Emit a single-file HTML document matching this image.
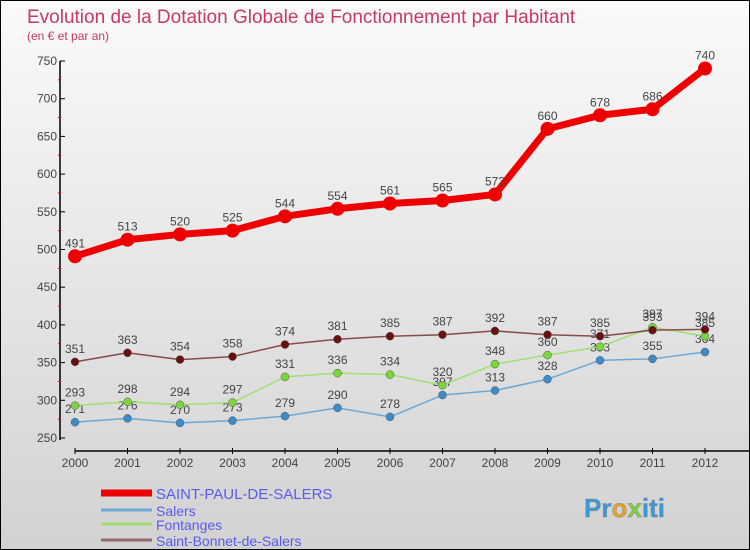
<!DOCTYPE html>
<html><head><meta charset="utf-8"><style>
html,body{margin:0;padding:0}
body{width:750px;height:550px;overflow:hidden;font-family:"Liberation Sans",sans-serif}
#wrap{position:relative;width:748px;height:548px;border:1px solid #000;background:linear-gradient(#fafafa,#d2d2d2)}
</style></head><body>
<div id="wrap">
<svg id="chart" width="748" height="548" style="position:absolute;left:0;top:0"></svg>
</div>
<script>
const years=['2000','2001','2002','2003','2004','2005','2006','2007','2008','2009','2010','2011','2012'];
const spsValues=[491,513,520,525,544,554,561,565,573,660,678,686,740];
const salersValues=[271,276,270,273,279,290,278,307,313,328,353,355,364];
const fontangesValues=[293,298,294,297,331,336,334,320,348,360,371,397,385];
const sbsValues=[351,363,354,358,374,381,385,387,392,387,385,393,394];
const yTicks=[250,300,350,400,450,500,550,600,650,700,750];
const seriesNames=['SAINT-PAUL-DE-SALERS','Salers','Fontanges','Saint-Bonnet-de-Salers'];

const NS='http://www.w3.org/2000/svg';
const svg=document.getElementById('chart');
function X(i){return 74+i*52.5;}
function Y(v){return 437-(v-250)*0.754;}
function el(t,a,p){const e=document.createElementNS(NS,t);for(const k in a)e.setAttribute(k,a[k]);(p||svg).appendChild(e);return e;}

let t=el('text',{x:26,y:22,'font-size':19,fill:'#c8386a'});t.textContent='Evolution de la Dotation Globale de Fonctionnement par Habitant';

t=el('text',{x:26,y:39,'font-size':12,fill:'#c8386a'});t.textContent='(en € et par an)';


// y axis
let ya=el('line',{x1:59,y1:60,x2:59,y2:439,stroke:'#000','stroke-width':1.5});

yTicks.forEach((v,i)=>{
 el('line',{x1:59,y1:Y(v),x2:64,y2:Y(v),stroke:'#000'});
 if(i<yTicks.length-1) el('line',{x1:57,y1:Y(v+25),x2:60,y2:Y(v+25),stroke:'#d00'});
 const l=el('text',{x:56,y:Y(v)+4,'font-size':12,fill:'#444','text-anchor':'end'});l.textContent=v;
 
});
// x axis
let xa=el('line',{x1:74,y1:450,x2:748,y2:450,stroke:'#000','stroke-width':1.5});

years.forEach((y,i)=>{
 el('line',{x1:X(i),y1:447,x2:X(i),y2:453,stroke:'#000'});
 const l=el('text',{x:X(i),y:466,'font-size':12,fill:'#444','text-anchor':'middle'});l.textContent=y;
 
});

function series(vals,color,dot,w,r,name){
 const g=el('g',{});
 
 el('polyline',{points:vals.map((v,i)=>X(i)+','+Y(v)).join(' '),fill:'none',stroke:color,'stroke-width':w,'stroke-linejoin':'round'},g);
 vals.forEach((v,i)=>{
  const c=el('circle',{cx:X(i),cy:Y(v),r:r,fill:dot,stroke:r>5?'none':'#555','stroke-width':0.5},g);
  
  const l=el('text',{x:X(i),y:Y(v)-9,'font-size':12,fill:'#444','text-anchor':'middle'},g);l.textContent=v;
  
 });
}
series(salersValues,'#6aa8d8','#3a8ccc',1.5,4,'series-salers');
series(fontangesValues,'#9ee070','#7ad63a',1.5,4,'series-fontanges');
series(sbsValues,'#8a4a4a','#6a1010',1.5,4,'series-saint-bonnet');
series(spsValues,'#ee0000','#ee0000',7,7,'series-saint-paul');

// legend
const lc=['#ee0000','#6aa8d8','#9ee070','#9a6a6a'];const lw=[7,3,3,3];const ly=[492,509,523,539];
seriesNames.forEach((n,i)=>{
 const g=el('g',{});
 el('line',{x1:100,y1:ly[i],x2:151,y2:ly[i],stroke:lc[i],'stroke-width':lw[i]},g);
 const l=el('text',{x:155,y:ly[i]+6,'font-size':i==0?15:14,fill:'#5a5af0'},g);l.textContent=n;
});
// logo
const lg=el('text',{x:583,y:516,'font-size':26,'font-weight':'bold',fill:'#f0a020',stroke:'#888','stroke-width':0.5});
lg.innerHTML='<tspan fill="#3a9ad8">Pr</tspan><tspan fill="#f0a020">o</tspan><tspan fill="#7ad63a">x</tspan><tspan fill="#3a9ad8">iti</tspan>';

</script>
</body></html>
